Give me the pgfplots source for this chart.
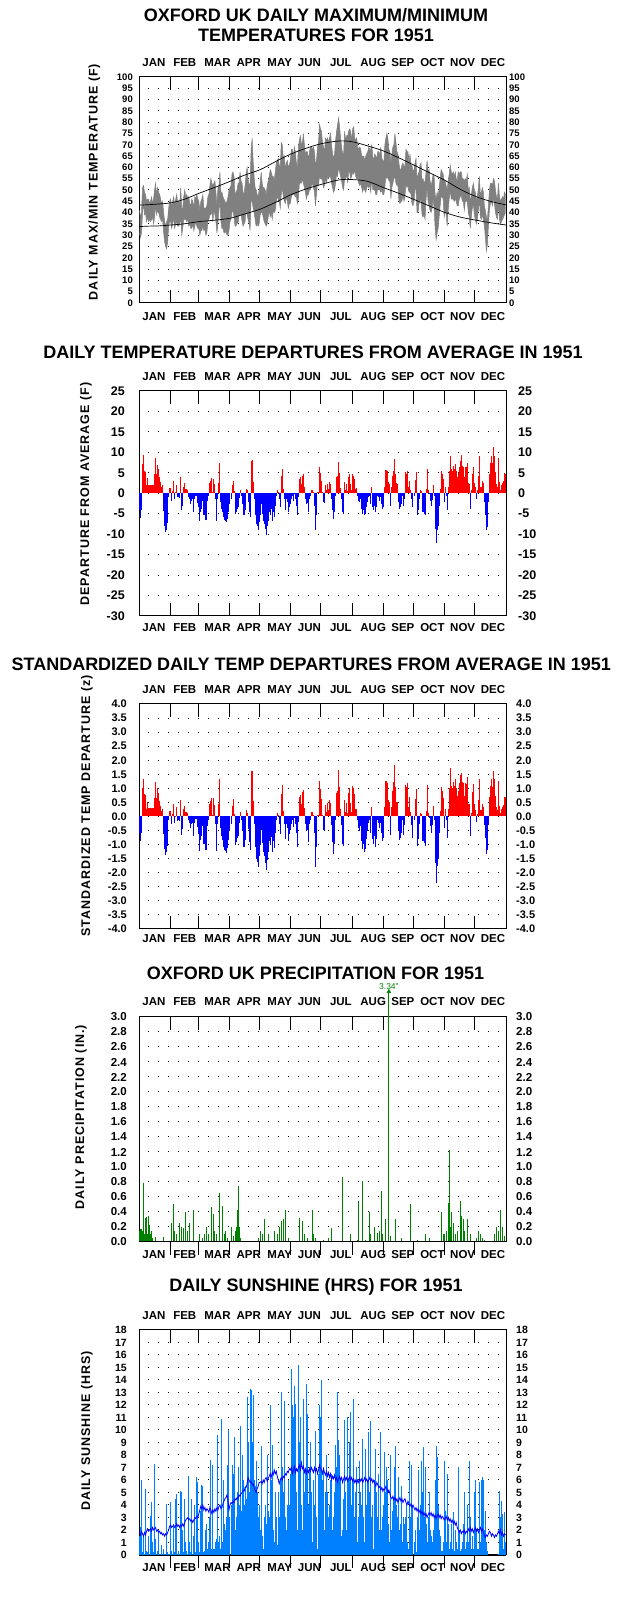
\documentclass[border=0pt]{standalone}
\usepackage{fontspec}
\setmainfont{Liberation Sans}
\newfontfamily\spaced[LetterSpace=8]{Liberation Sans}
\usepackage{pgfplots}
\pgfplotsset{compat=1.18}
\usepackage{pgfplotstable}
\usepgfplotslibrary{fillbetween}

\definecolor{tred}{RGB}{255,0,0}
\definecolor{tblue}{RGB}{0,0,255}
\definecolor{pgreen}{RGB}{0,128,0}
\definecolor{sunblue}{RGB}{0,128,255}
\definecolor{bandgray}{RGB}{128,128,128}

\newcommand\ttl{\bfseries\fontsize{18}{20}\selectfont}
\newcommand\mon{\bfseries\fontsize{11.5}{13}\selectfont}
\newcommand\ylab{\spaced\bfseries\fontsize{12.5}{14}\selectfont}

% daily data: max/min temp, departure, z departure, sunshine, sunshine average, precipitation
\pgfplotstableread{
d tmax tmin dep z sun avg pr
1 41 31 -4.0 -0.57 1.5 1.8 0.15
2 38 29 -6.0 -0.86 2.2 1.6 0.17
3 40 31 -4.0 -0.57 6.0 1.9 0.17
4 51 40 7.2 1.03 0.2 1.7 0.15
5 52 44 9.4 1.34 1.5 1.5 0.79
6 49 39 5.5 0.79 0.1 1.8 0.10
7 48 40 5.3 0.76 5.3 1.6 0.32
8 45 36 1.9 0.27 0.3 1.9 0.33
9 46 38 3.7 0.53 0.2 2.1 0.10
10 46 36 2.1 0.30 1.5 1.9 0.35
11 44 37 2.1 0.30 0.1 2.0 0.22
12 45 36 2.1 0.30 3.1 2.1 0.10
13 47 37 2.1 0.30 4.2 1.9 0.15
14 44 38 2.1 0.30 1.0 2.2 0.05
15 46 35 2.1 0.30 0.2 2.0 0
16 50 38 4.7 0.67 7.3 2.1 0
17 53 43 8.6 1.23 1.3 2.2 0.07
18 48 39 4.7 0.67 0.1 1.9 0
19 51 41 7.0 1.00 0.3 2.0 0
20 49 40 5.9 0.84 2.0 1.8 0
21 48 38 3.9 0.56 0.1 1.9 0
22 46 37 2.7 0.39 0.1 1.7 0
23 44 36 1.5 0.21 0.8 1.8 0
24 45 37 1.9 0.27 0.1 1.6 0
25 40 31 -4.4 -0.63 0.5 1.7 0.07
26 36 27 -8.1 -1.16 0.1 1.5 0
27 34 25 -9.5 -1.36 0.1 1.7 0
28 36 24 -8.9 -1.27 4.1 1.6 0
29 37 27 -7.3 -1.04 0.2 1.8 0
30 42 34 -1.0 -0.14 0.1 2.0 0
31 45 36 1.3 0.19 0.1 2.3 0
32 46 36 1.3 0.20 4.2 2.4 0
33 42 33 -1.8 -0.28 0.3 2.2 0.25
34 45 35 0.5 0.08 0.1 2.3 0
35 47 38 2.9 0.45 2.5 2.4 0.51
36 43 33 -1.4 -0.22 0.2 2.2 0.15
37 46 35 0.2 0.03 4.5 2.3 0
38 48 36 2.1 0.32 4.9 2.5 0.10
39 44 34 -1.0 -0.15 0.1 2.3 0
40 45 34 -0.8 -0.12 0.3 2.4 0
41 44 35 -1.1 -0.17 0.1 2.2 0.25
42 51 38 3.9 0.60 5.1 2.4 0
43 42 30 -4.2 -0.65 5.0 2.3 0.20
44 42 33 -3.0 -0.46 2.0 2.5 0
45 47 37 1.6 0.25 0.2 2.3 0.18
46 50 37 2.4 0.37 4.5 2.6 0
47 47 37 1.1 0.17 1.0 2.8 0.40
48 48 36 1.1 0.17 0.3 2.9 0
49 46 37 0.7 0.11 0.1 3.0 0.15
50 47 34 -0.8 -0.12 6.3 2.8 0
51 44 35 -1.4 -0.22 1.0 2.9 0.25
52 43 33 -2.6 -0.40 0.2 2.7 0
53 46 33 -1.8 -0.28 4.5 2.8 0
54 45 35 -1.4 -0.22 0.1 2.6 0
55 42 32 -4.6 -0.71 1.5 2.8 0.42
56 47 34 -1.4 -0.22 4.0 3.0 0
57 46 36 -0.6 -0.09 0.2 2.9 0
58 48 34 -0.6 -0.09 6.2 3.1 0
59 46 33 -2.4 -0.37 5.8 3.0 0
60 45 33 -3.4 -0.62 1.0 3.3 0
61 41 30 -6.7 -1.22 0.2 3.6 0.10
62 45 32 -4.6 -0.84 3.5 3.9 0
63 46 32 -3.8 -0.69 5.6 3.7 0
64 48 34 -1.8 -0.33 5.5 4.0 0.05
65 42 32 -5.4 -0.98 0.2 3.6 0
66 42 33 -5.4 -0.98 0.3 3.8 0.10
67 42 30 -6.5 -1.18 2.0 3.5 0
68 43 31 -6.5 -1.18 2.5 3.7 0.20
69 47 36 -1.8 -0.33 0.5 3.6 0
70 48 37 -0.6 -0.11 1.0 3.4 0.10
71 52 39 2.4 0.44 3.0 3.8 0
72 55 39 3.1 0.56 7.6 3.6 0
73 53 41 3.7 0.67 0.5 3.3 0.46
74 52 36 0.3 0.05 7.2 3.6 0
75 53 41 3.5 0.64 0.5 3.4 0.37
76 54 39 2.3 0.42 0.5 3.7 0.15
77 49 36 -1.4 -0.25 1.0 3.5 0
78 43 31 -6.8 -1.24 1.3 3.8 0.10
79 51 35 -1.4 -0.25 9.6 3.6 0
80 52 41 2.4 0.44 1.0 3.9 0
81 58 45 7.3 1.33 1.5 4.0 0.65
82 48 36 -2.2 -0.40 0.5 3.7 0
83 49 33 -3.8 -0.69 10.9 3.8 0.48
84 47 33 -4.6 -0.84 1.0 4.1 0
85 46 31 -5.9 -1.07 6.0 4.3 0.10
86 45 31 -6.5 -1.18 2.5 4.5 0.15
87 44 32 -6.7 -1.22 2.0 4.6 0
88 45 30 -7.1 -1.29 3.0 4.8 0.05
89 47 30 -6.2 -1.13 7.2 4.4 0
90 50 32 -4.6 -0.84 10.0 3.6 0
91 51 36 -2.6 -0.52 3.0 4.0 0
92 52 37 -1.4 -0.28 4.0 4.2 0.20
93 57 40 1.9 0.38 7.2 4.1 0
94 58 41 3.1 0.62 6.5 4.3 0.08
95 56 38 0.5 0.10 9.4 4.2 0
96 48 34 -5.0 -1.00 2.0 4.5 0.15
97 49 34 -4.6 -0.92 3.0 4.4 0.20
98 50 36 -3.8 -0.76 5.0 4.6 0.43
99 53 35 -3.4 -0.68 7.0 4.5 0.74
100 53 39 -1.1 -0.22 4.0 4.8 0.20
101 58 39 0.8 0.16 10.3 4.7 0.05
102 54 39 -0.6 -0.12 3.5 4.9 0
103 53 36 -2.6 -0.52 8.0 5.0 0
104 49 34 -5.4 -1.08 6.0 5.2 0
105 48 35 -5.4 -1.08 4.0 5.1 0
106 52 36 -4.2 -0.84 5.5 5.4 0
107 57 42 1.1 0.22 4.5 5.4 0
108 60 39 0.7 0.14 12.6 5.7 0
109 55 37 -2.2 -0.44 9.0 6.2 0
110 52 35 -4.6 -0.92 5.0 6.0 0
111 53 32 -5.9 -1.18 13.3 5.8 0
112 68 46 8.0 1.60 13.2 5.9 0
113 73 45 8.1 1.62 9.0 5.6 0
114 63 42 2.7 0.54 12.8 5.7 0
115 56 40 -1.4 -0.28 6.0 5.4 0
116 51 37 -5.4 -1.08 5.5 5.2 0
117 50 34 -7.5 -1.50 7.5 5.0 0
118 48 35 -8.1 -1.62 5.0 5.3 0
119 47 34 -8.9 -1.78 3.0 5.5 0.05
120 50 35 -7.1 -1.42 4.0 5.8 0
121 53 39 -5.4 -1.02 2.0 5.8 0.15
122 58 40 -2.6 -0.49 8.7 5.9 0
123 53 40 -5.0 -0.94 1.5 5.7 0.10
124 51 38 -6.7 -1.26 0.5 6.0 0
125 51 36 -7.5 -1.42 3.0 5.8 0.30
126 50 35 -8.7 -1.64 4.0 6.1 0
127 48 34 -10.2 -1.92 2.5 6.2 0
128 52 35 -8.1 -1.53 8.0 5.9 0
129 54 38 -6.7 -1.26 3.5 6.1 0.10
130 56 41 -4.6 -0.87 3.0 6.3 0
131 59 38 -5.4 -1.02 12.0 6.5 0
132 58 40 -3.8 -0.72 6.0 6.2 0
133 56 37 -6.7 -1.26 8.8 6.6 0
134 56 41 -4.6 -0.87 2.0 6.4 0
135 54 40 -5.9 -1.11 1.0 6.8 0.15
136 58 41 -3.0 -0.57 5.0 6.5 0
137 62 45 -0.6 -0.11 3.0 6.7 0
138 63 47 0.7 0.13 0.8 6.3 0.10
139 64 46 0.3 0.06 5.0 6.0 0
140 61 45 -1.4 -0.26 3.0 5.7 0.20
141 60 42 -3.4 -0.64 6.0 6.0 0
142 71 48 4.3 0.81 13.0 6.2 0.28
143 70 51 5.9 1.11 7.0 6.0 0
144 64 47 1.1 0.21 5.0 6.3 0.30
145 65 45 -1.4 -0.26 12.3 6.2 0
146 59 44 -4.2 -0.79 3.0 6.5 0.42
147 62 47 -1.4 -0.26 2.0 6.4 0
148 63 45 -2.2 -0.42 4.0 6.7 0
149 60 42 -4.6 -0.87 6.0 6.6 0.05
150 61 44 -3.4 -0.64 4.0 6.9 0
151 63 44 -2.6 -0.49 6.5 6.8 0
152 68 47 -1.4 -0.28 14.9 7.0 0
153 68 48 -0.6 -0.12 12.0 6.5 0
154 64 48 -1.8 -0.36 11.0 6.8 0
155 69 48 -0.2 -0.04 13.5 7.1 0
156 67 47 -1.4 -0.28 12.1 6.6 0
157 62 47 -3.0 -0.60 5.0 6.9 0
158 60 44 -5.4 -1.08 2.0 6.7 0
159 69 46 -1.0 -0.20 15.2 7.0 0
160 72 53 3.5 0.70 9.0 7.2 0.32
161 74 53 3.9 0.78 11.0 6.8 0
162 70 53 2.3 0.46 4.0 7.4 0
163 71 55 4.3 0.86 2.0 6.9 0.28
164 75 53 4.7 0.94 12.5 7.1 0
165 70 51 1.5 0.30 5.0 6.6 0.10
166 66 49 -1.4 -0.28 6.8 6.9 0
167 67 46 -2.6 -0.52 13.7 6.5 0
168 67 48 -2.4 -0.48 11.3 6.8 0.05
169 63 48 -4.6 -0.92 4.0 6.6 0
170 67 50 -1.4 -0.28 7.0 6.9 0
171 69 50 -0.6 -0.12 9.0 6.7 0
172 69 52 0.8 0.16 5.0 7.0 0
173 68 53 0.8 0.16 1.0 6.8 0.43
174 69 51 0.3 0.06 6.0 6.6 0.10
175 67 49 -3.0 -0.60 4.0 7.0 0
176 61 43 -8.9 -1.78 9.9 6.7 0.05
177 63 48 -5.4 -1.08 3.0 6.9 0
178 69 53 0.3 0.06 0.5 6.5 0
179 71 52 0.3 0.06 6.5 6.8 0
180 79 56 6.3 1.26 12.0 7.2 0
181 77 55 4.9 0.98 11.0 6.9 0
182 76 55 2.9 0.62 14.0 6.8 0
183 71 54 0.3 0.06 6.0 6.5 0
184 69 51 -2.2 -0.47 7.0 6.9 0.03
185 67 52 -2.4 -0.51 2.0 6.6 0
186 73 55 1.9 0.40 5.0 6.4 0
187 72 53 0.7 0.15 8.0 6.7 0
188 73 56 2.3 0.49 5.0 6.3 0
189 71 55 1.1 0.23 3.0 6.6 0.05
190 73 56 2.7 0.57 4.0 6.2 0
191 75 56 2.3 0.49 6.0 6.5 0
192 70 53 -1.4 -0.30 6.5 6.0 0.18
193 66 51 -4.2 -0.89 2.0 6.3 0
194 64 49 -6.3 -1.34 3.0 6.1 0
195 66 50 -4.6 -0.98 5.0 6.4 0
196 72 53 -0.6 -0.13 8.8 6.0 0
197 76 57 3.9 0.83 7.0 6.2 0
198 79 56 4.3 0.91 13.0 5.8 0
199 82 60 7.7 1.64 9.2 6.1 0
200 78 58 4.9 1.04 8.0 6.3 0
201 73 56 1.3 0.28 6.0 6.0 0
202 69 54 -1.4 -0.30 1.5 6.2 0
203 66 51 -4.6 -0.98 2.0 5.8 0.87
204 66 50 -5.0 -1.06 4.5 6.1 0
205 76 55 2.7 0.57 10.8 6.3 0
206 72 55 0.7 0.15 5.0 6.0 0
207 74 57 2.3 0.49 2.0 6.2 0
208 74 53 0.5 0.11 11.0 5.9 0
209 76 58 3.9 0.83 6.0 6.1 0
210 77 58 4.7 1.00 9.0 6.3 0
211 76 55 2.3 0.49 11.4 6.0 0.10
212 72 56 0.7 0.15 4.0 6.2 0
213 77 58 4.7 1.09 6.0 5.9 0
214 78 57 4.3 1.00 12.5 6.1 0
215 73 59 3.5 0.81 3.0 5.8 0
216 72 56 1.1 0.26 5.0 6.0 0
217 73 55 1.2 0.28 7.0 5.7 0
218 69 55 -0.6 -0.14 1.0 6.0 0.03
219 68 53 -1.8 -0.42 3.0 5.8 0.54
220 69 52 -2.2 -0.51 7.5 6.1 0
221 68 53 -1.4 -0.33 5.0 5.9 0
222 65 51 -3.8 -0.88 4.0 6.1 0
223 65 49 -5.0 -1.16 9.3 5.8 0.81
224 65 51 -4.2 -0.98 3.0 6.0 0
225 63 50 -5.4 -1.26 1.0 6.2 0
226 65 49 -5.0 -1.16 8.5 5.9 0.02
227 66 51 -3.4 -0.79 4.0 6.1 0
228 67 52 -2.2 -0.51 6.0 5.8 0
229 69 51 -1.0 -0.23 9.8 6.0 0
230 68 52 -0.6 -0.14 5.0 6.2 0.40
231 68 49 -2.6 -0.60 10.7 5.9 0.10
232 70 55 1.5 0.35 3.0 6.1 0
233 65 50 -3.4 -0.79 4.0 5.8 0
234 63 50 -4.2 -0.98 0.5 6.0 0
235 66 50 -3.0 -0.70 6.0 5.7 0.20
236 65 48 -4.6 -1.07 8.5 5.5 0
237 64 48 -3.4 -0.79 5.0 5.8 0
238 67 51 -0.6 -0.14 3.0 5.6 0.12
239 67 50 -1.0 -0.23 6.5 5.4 0
240 65 50 -1.8 -0.42 2.0 5.5 0.15
241 69 49 -1.0 -0.23 9.8 5.2 0
242 64 50 -2.6 -0.60 2.0 5.4 0.68
243 63 48 -3.8 -0.88 3.0 5.1 0.10
244 62 48 -3.4 -0.76 4.0 5.3 0
245 70 51 1.5 0.33 8.2 5.2 0
246 73 56 5.7 1.27 5.0 5.5 0.30
247 75 55 5.7 1.27 7.0 5.3 0
248 73 56 5.4 1.20 6.0 5.0 0
249 68 54 2.7 0.60 2.5 5.2 3.34
250 67 54 2.3 0.51 1.0 4.9 0
251 62 46 -3.0 -0.67 8.0 4.6 0.08
252 66 51 1.5 0.33 2.0 4.5 0
253 69 53 4.1 0.91 3.5 4.7 0
254 70 55 5.5 1.22 4.5 4.4 0
255 75 56 8.3 1.84 7.0 4.6 0
256 71 53 4.7 1.04 8.7 4.3 0.30
257 67 52 2.4 0.53 4.0 4.5 0
258 66 52 2.3 0.51 3.0 4.2 0
259 62 45 -2.2 -0.49 6.2 4.4 0
260 59 44 -3.8 -0.84 2.0 4.6 0
261 59 45 -3.4 -0.76 2.5 4.3 0
262 61 45 -2.6 -0.58 5.5 4.5 0.05
263 62 48 -0.6 -0.13 1.0 4.2 0
264 60 45 -3.0 -0.67 3.0 4.4 0
265 61 47 -1.4 -0.31 2.5 4.5 0
266 68 53 5.1 1.13 3.0 4.2 0
267 67 51 4.7 1.04 4.0 4.0 0
268 67 52 5.4 1.20 1.0 4.3 0
269 62 49 1.5 0.33 0.5 4.1 0
270 66 49 3.1 0.69 7.5 3.9 0.51
271 61 48 0.7 0.16 3.0 4.1 0
272 61 44 -1.4 -0.31 7.2 3.8 0
273 58 43 -3.4 -0.76 4.0 4.0 0
274 59 45 -0.6 -0.12 1.0 3.8 0
275 62 50 3.3 0.63 2.0 3.6 0
276 64 51 5.1 0.98 0.2 3.8 0
277 54 40 -5.4 -1.04 3.0 3.5 0.02
278 57 40 -4.2 -0.81 6.8 3.7 0
279 58 44 -1.4 -0.27 2.0 3.4 0
280 61 46 0.7 0.13 4.0 3.6 0
281 62 45 0.5 0.10 7.5 3.3 0
282 54 39 -4.6 -0.88 5.0 3.5 0
283 55 38 -4.6 -0.88 8.6 3.2 0
284 53 39 -5.0 -0.96 3.0 3.4 0
285 54 37 -5.4 -1.04 7.0 3.1 0.10
286 58 46 1.1 0.21 2.5 3.3 0
287 63 51 5.9 1.13 1.0 3.0 0
288 58 45 0.7 0.13 3.0 3.2 0
289 59 43 -0.2 -0.04 5.0 3.4 0.05
290 54 41 -1.8 -0.35 2.0 3.2 0
291 52 40 -3.0 -0.58 1.5 3.4 0
292 54 42 -1.6 -0.31 1.0 3.1 0
293 57 46 1.9 0.37 2.0 3.3 0
294 56 42 -0.6 -0.12 3.0 3.0 0
295 48 33 -8.7 -1.67 6.0 3.2 0
296 46 28 -12.2 -2.35 8.7 2.9 0
297 49 31 -9.1 -1.75 7.8 3.1 0
298 47 33 -7.9 -1.52 4.0 3.3 0
299 51 38 -3.0 -0.58 2.0 3.0 0
300 55 43 1.1 0.21 1.5 3.2 0
301 59 47 5.5 1.06 0.3 2.9 0.40
302 58 47 4.7 0.90 0.3 3.1 0
303 57 46 3.5 0.67 1.0 3.0 0.10
304 54 38 -2.2 -0.42 7.5 2.8 0.10
305 54 41 1.5 0.28 3.5 2.9 0
306 52 39 -0.6 -0.11 1.0 3.1 0.15
307 50 34 -4.2 -0.78 6.5 2.8 0
308 54 41 1.5 0.28 2.5 3.0 0.52
309 57 46 5.5 1.02 0.5 2.7 1.22
310 61 50 9.0 1.72 1.0 2.9 0.20
311 58 46 5.9 1.09 2.5 2.6 0.40
312 57 46 5.4 1.00 0.5 2.8 0
313 58 46 6.7 1.24 3.4 2.5 0.25
314 56 45 5.9 1.09 0.3 2.7 0
315 58 46 7.2 1.33 2.0 2.4 0.10
316 55 45 5.5 1.02 1.0 2.6 0
317 54 43 3.9 0.72 0.5 2.2 0.15
318 58 43 4.9 0.91 7.0 2.0 0
319 57 46 6.5 1.20 2.0 1.8 0
320 58 47 8.0 1.48 0.3 2.0 0.54
321 58 48 9.4 1.55 0.5 1.7 0.35
322 55 45 6.7 1.24 1.0 1.9 0
323 55 45 6.5 1.20 2.5 1.8 0.30
324 54 41 3.9 0.72 5.0 2.0 0.15
325 55 45 6.5 1.20 0.5 1.7 0
326 54 45 6.3 1.17 1.0 1.9 0
327 57 45 7.5 1.39 4.0 1.8 0.30
328 50 40 2.4 0.44 1.0 2.1 0
329 51 38 2.3 0.43 7.5 1.9 0
330 44 33 -3.8 -0.70 3.0 2.2 0.10
331 48 38 0.7 0.13 0.5 1.9 0
332 51 42 4.7 0.87 1.5 2.1 0
333 53 44 6.3 1.17 0.5 1.8 0
334 50 39 2.4 0.44 5.0 2.0 0
335 49 37 1.5 0.22 6.0 2.2 0
336 45 35 -1.4 -0.20 2.0 1.9 0.05
337 47 37 0.7 0.10 0.5 2.1 0
338 51 41 4.1 0.59 0.5 1.8 0.15
339 56 46 9.2 1.33 5.8 2.0 0
340 48 38 1.5 0.22 1.0 2.2 0.10
341 49 37 1.6 0.23 6.0 1.9 0
342 51 39 3.1 0.45 6.2 2.1 0.05
343 49 37 2.4 0.35 6.0 1.8 0
344 43 34 -2.2 -0.32 2.0 1.6 0.03
345 41 29 -5.4 -0.78 3.5 1.4 0
346 38 23 -9.1 -1.32 1.0 1.6 0
347 37 26 -8.3 -1.20 0.3 1.5 0
348 43 34 -2.2 -0.32 0 1.7 0
349 50 41 4.7 0.68 0 1.9 0
350 53 44 7.5 1.09 0 1.8 0
351 53 45 9.2 1.33 0 1.5 0
352 52 43 7.3 1.06 0 1.7 0
353 55 47 11.2 1.62 0 1.6 0
354 54 44 9.2 1.33 0 1.4 0.10
355 50 40 5.1 0.74 0 1.6 0
356 47 38 2.3 0.33 0 1.5 0.20
357 46 37 1.5 0.22 0 1.7 0
358 53 44 8.6 1.25 0.1 1.9 0.15
359 47 37 2.7 0.39 5.1 1.7 0
360 45 35 0.8 0.12 3.0 2.0 0.43
361 46 36 1.9 0.28 4.3 1.6 0
362 47 37 2.4 0.35 3.3 1.8 0.20
363 46 38 2.9 0.42 0.5 1.5 0
364 49 39 4.9 0.71 3.4 1.7 0.08
365 48 40 4.7 0.68 1.0 1.6 0
}\wx

% long-term average max/min temperatures
\pgfplotstableread{
d nmax nmin
0.5 43.3 33.8
10 43.5 34.0
20 43.8 34.1
32 44.3 34.5
45 45.8 35.0
60 48.5 36.0
75 51.0 36.6
91 53.8 37.5
105 56.5 39.3
121 59.0 41.5
136 62.5 44.5
152 66.0 48.0
167 68.5 50.5
182 70.5 52.5
200 71.7 54.5
213 71.3 54.6
228 69.5 53.8
244 67.2 51.0
259 64.2 48.5
274 61.0 45.8
290 57.5 42.8
305 54.2 40.0
320 50.3 38.0
335 47.2 36.7
350 45.0 35.5
365.5 43.4 34.5
}\normals

\pgfplotsset{
  panel/.style 2 args={
    at={(139pt,#1)}, anchor=south west, scale only axis,
    width=367pt, height=#2,
    xmin=0.5, xmax=365.5,
    xtick={31.5,59.5,90.5,120.5,151.5,181.5,212.5,243.5,273.5,304.5,334.5},
    xticklabels={},
    xtick pos=both, tick align=inside, major tick length=13pt,
    xtick style={black, line width=1pt},
    ytick style={draw=none},
    axis line style={line width=1pt},
    ymajorgrids,
    grid style={black, line width=1pt, dash pattern=on 1pt off 9pt, dash phase=1pt},
    yticklabel style={anchor=east, inner sep=0pt},
  },
  rightlab/.style 2 args={
    at={(139pt,#1)}, anchor=south west, scale only axis,
    width=367pt, height=#2,
    xmin=0.5, xmax=365.5,
    axis x line=none, axis y line*=right,
    axis line style={draw=none},
    ytick style={draw=none}, tick align=inside,
    yticklabel style={anchor=west, inner sep=0pt},
  },
  bottomticks/.style={
    at={(139pt,#1)}, anchor=south west, scale only axis,
    width=367pt, height=225pt,
    xmin=0.5, xmax=365.5, ymin=0, ymax=20,
    axis y line=none, axis x line*=bottom,
    axis line style={-, line width=1pt},
    xtick={31.5,59.5,90.5,120.5,151.5,181.5,212.5,243.5,273.5,304.5,334.5},
    xticklabels={},
    tick align=outside, major tick length=13pt,
    xtick style={black, line width=1pt},
  },
}

\newcommand\monthrow[1]{%
  \foreach \m/\x in {JAN/154.0,FEB/184.8,MAR/217.5,APR/248.8,MAY/279.7,JUN/309.4,JUL/340.9,AUG/373.2,SEP/402.9,OCT/432.4,NOV/462.7,DEC/493.0}
    \node[font=\mon] at (\x pt,#1 pt) {\m};}

\begin{document}
\begin{tikzpicture}

% ---------- panel 1: max/min temperatures
\node[font=\ttl] at (316pt,1590.5pt) {OXFORD UK DAILY MAXIMUM/MINIMUM};
\node[font=\ttl] at (316pt,1571pt) {TEMPERATURES FOR 1951};
\node[rotate=90, font=\ylab] at (94.5pt,1424pt) {DAILY MAX/MIN TEMPERATURE (F)};
\monthrow{1543}
\monthrow{1289}
\begin{axis}[panel={1303pt}{226pt}, ymin=0, ymax=100,
  ytick={0,5,...,100},
  yticklabels={0,5,10,15,20,25,30,35,40,45,50,55,60,65,70,75,80,85,90,95,100},
  yticklabel style={font=\bfseries\fontsize{9.5}{10}\selectfont, xshift=-6pt}]
  \addplot[name path=hi, draw=bandgray, line width=0.5pt] table[x=d, y=tmax] {\wx};
  \addplot[name path=lo, draw=bandgray, line width=0.5pt] table[x=d, y=tmin] {\wx};
  \addplot[fill=bandgray] fill between[of=hi and lo];
  \addplot[black, line width=0.7pt, smooth] table[x=d, y=nmax] {\normals};
  \addplot[black, line width=0.7pt, smooth] table[x=d, y=nmin] {\normals};
\end{axis}
\begin{axis}[rightlab={1303pt}{226pt}, ymin=0, ymax=100,
  ytick={0,5,...,100},
  yticklabels={0,5,10,15,20,25,30,35,40,45,50,55,60,65,70,75,80,85,90,95,100},
  yticklabel style={font=\bfseries\fontsize{9.5}{10}\selectfont, xshift=3pt}]
  \addplot[draw=none] table[x=d, y=tmax] {\wx};
\end{axis}

% ---------- panel 2: departures
\node[font=\ttl] at (313pt,1254pt) {DAILY TEMPERATURE DEPARTURES FROM AVERAGE IN 1951};
\node[rotate=90, font=\ylab] at (86pt,1112pt) {DEPARTURE FROM AVERAGE (F)};
\monthrow{1229}
\monthrow{978}
\begin{axis}[panel={990pt}{225pt}, ymin=-30, ymax=25,
  ytick={-30,-25,...,25},
  yticklabels={-30,-25,-20,-15,-10,-5,0,5,10,15,20,25},
  yticklabel style={font=\bfseries\fontsize{12.5}{13}\selectfont, xshift=-14pt}]
  \addplot[ycomb, tred, line width=1pt, restrict y to domain=0:50] table[x=d, y=dep] {\wx};
  \addplot[ycomb, tblue, line width=1pt, restrict y to domain=-50:0] table[x=d, y=dep] {\wx};
\end{axis}
\begin{axis}[rightlab={990pt}{225pt}, ymin=-30, ymax=25,
  ytick={-30,-25,...,25},
  yticklabels={-30,-25,-20,-15,-10,-5,0,5,10,15,20,25},
  yticklabel style={font=\bfseries\fontsize{12.5}{13}\selectfont, xshift=12pt}]
  \addplot[draw=none] table[x=d, y=dep] {\wx};
\end{axis}

% ---------- panel 3: standardized departures
\node[font=\ttl] at (311.3pt,942pt) {STANDARDIZED DAILY TEMP DEPARTURES FROM AVERAGE IN 1951};
\node[rotate=90, font=\ylab] at (87pt,800pt) {STANDARDIZED TEMP DEPARTURE (z)};
\monthrow{916}
\monthrow{667}
\begin{axis}[panel={677pt}{225pt}, ymin=-4, ymax=4,
  ytick={-4,-3.5,...,4},
  yticklabels={-4.0,-3.5,-3.0,-2.5,-2.0,-1.5,-1.0,-0.5,0.0,0.5,1.0,1.5,2.0,2.5,3.0,3.5,4.0},
  yticklabel style={font=\bfseries\fontsize{11}{12}\selectfont, xshift=-12pt}]
  \addplot[ycomb, tred, line width=1pt, restrict y to domain=0:10] table[x=d, y=z] {\wx};
  \addplot[ycomb, tblue, line width=1pt, restrict y to domain=-10:0] table[x=d, y=z] {\wx};
\end{axis}
\begin{axis}[rightlab={677pt}{225pt}, ymin=-4, ymax=4,
  ytick={-4,-3.5,...,4},
  yticklabels={-4.0,-3.5,-3.0,-2.5,-2.0,-1.5,-1.0,-0.5,0.0,0.5,1.0,1.5,2.0,2.5,3.0,3.5,4.0},
  yticklabel style={font=\bfseries\fontsize{11}{12}\selectfont, xshift=10pt}]
  \addplot[draw=none] table[x=d, y=z] {\wx};
\end{axis}

% ---------- panel 4: precipitation
\node[font=\ttl] at (315.5pt,633pt) {OXFORD UK PRECIPITATION FOR 1951};
\node[rotate=90, font=\ylab] at (81pt,489pt) {DAILY PRECIPITATION (IN.)};
\monthrow{604}
\monthrow{351}
\begin{axis}[panel={364pt}{225pt}, ymin=0, ymax=3, xtick pos=right, clip=false,
  ytick={0,0.2,0.4,0.6,0.8,1,1.2,1.4,1.6,1.8,2,2.2,2.4,2.6,2.8,3},
  yticklabels={0.0,0.2,0.4,0.6,0.8,1.0,1.2,1.4,1.6,1.8,2.0,2.2,2.4,2.6,2.8,3.0},
  yticklabel style={font=\bfseries\fontsize{11.5}{12}\selectfont, xshift=-12pt}]
  \addplot[ycomb, pgreen, line width=0.9pt] table[x=d, y=pr] {\wx};
  \addplot[pgreen, only marks, mark=triangle*, mark size=2.2pt] coordinates {(249,3.34)};
  \node[pgreen, font=\fontsize{8.5}{9}\selectfont, anchor=south, inner sep=0pt] at (axis cs:249,3.34) [yshift=1.5pt] {3.34"};
\end{axis}
\begin{axis}[rightlab={364pt}{225pt}, ymin=0, ymax=3,
  ytick={0,0.2,0.4,0.6,0.8,1,1.2,1.4,1.6,1.8,2,2.2,2.4,2.6,2.8,3},
  yticklabels={0.0,0.2,0.4,0.6,0.8,1.0,1.2,1.4,1.6,1.8,2.0,2.2,2.4,2.6,2.8,3.0},
  yticklabel style={font=\bfseries\fontsize{11.5}{12}\selectfont, xshift=10pt}]
  \addplot[draw=none] table[x=d, y=pr] {\wx};
\end{axis}
\begin{axis}[bottomticks={364pt}]
  \addplot[draw=none] table[x=d, y=sun] {\wx};
\end{axis}

% ---------- panel 5: sunshine
\node[font=\ttl] at (316pt,319pt) {DAILY SUNSHINE (HRS) FOR 1951};
\node[rotate=90, font=\ylab] at (87pt,175pt) {DAILY SUNSHINE (HRS)};
\monthrow{290}
\monthrow{38}
\begin{axis}[panel={51pt}{225pt}, ymin=0, ymax=18, xtick pos=right,
  ytick={0,1,...,18},
  yticklabels={0,1,2,3,4,5,6,7,8,9,10,11,12,13,14,15,16,17,18},
  yticklabel style={font=\bfseries\fontsize{10.5}{11}\selectfont, xshift=-12pt}]
  \addplot[ycomb, sunblue, line width=1pt] table[x=d, y=sun] {\wx};
  \addplot[tblue, line width=0.8pt] table[x=d, y=avg] {\wx};
\end{axis}
\begin{axis}[rightlab={51pt}{225pt}, ymin=0, ymax=18,
  ytick={0,1,...,18},
  yticklabels={0,1,2,3,4,5,6,7,8,9,10,11,12,13,14,15,16,17,18},
  yticklabel style={font=\bfseries\fontsize{10.5}{11}\selectfont, xshift=10pt}]
  \addplot[draw=none] table[x=d, y=sun] {\wx};
\end{axis}
\begin{axis}[bottomticks={51pt}]
  \addplot[draw=none] table[x=d, y=sun] {\wx};
\end{axis}

\pgfresetboundingbox
\path[use as bounding box] (0pt,0pt) rectangle (622pt,1606pt);
\end{tikzpicture}
\end{document}
